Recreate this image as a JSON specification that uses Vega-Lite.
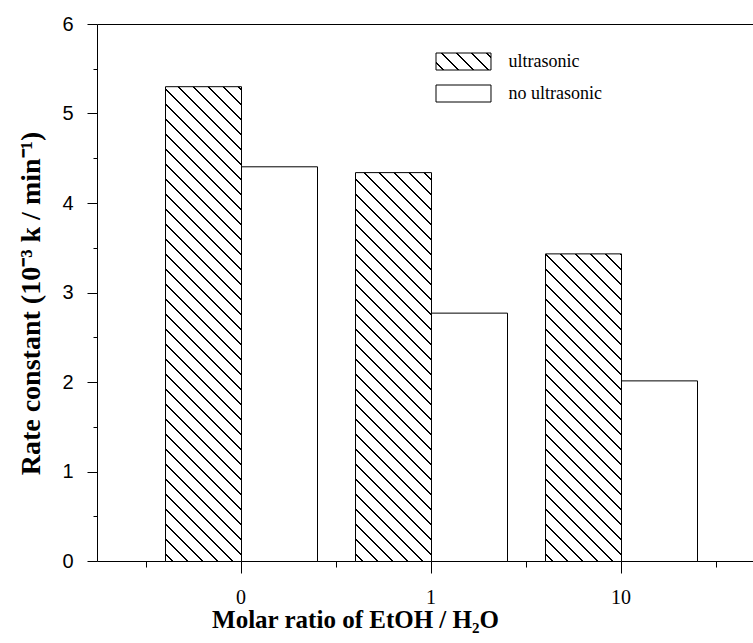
{
  "$schema": "https://vega.github.io/schema/vega-lite/v6.json",
  "autosize": "none",
  "width": 655.5,
  "height": 537,
  "padding": {"left": 97.5, "top": 24.5, "right": 0, "bottom": 81.5},
  "background": "white",
  "params": [
    {"name": "hs", "value": [
      {"offset":0.011,"color":"#fff"},{"offset":0.011,"color":"#000"},{"offset":0.014,"color":"#000"},{"offset":0.014,"color":"#fff"},
      {"offset":0.036,"color":"#fff"},{"offset":0.036,"color":"#000"},{"offset":0.039,"color":"#000"},{"offset":0.039,"color":"#fff"},
      {"offset":0.061,"color":"#fff"},{"offset":0.061,"color":"#000"},{"offset":0.064,"color":"#000"},{"offset":0.064,"color":"#fff"},
      {"offset":0.086,"color":"#fff"},{"offset":0.086,"color":"#000"},{"offset":0.089,"color":"#000"},{"offset":0.089,"color":"#fff"},
      {"offset":0.111,"color":"#fff"},{"offset":0.111,"color":"#000"},{"offset":0.114,"color":"#000"},{"offset":0.114,"color":"#fff"},
      {"offset":0.136,"color":"#fff"},{"offset":0.136,"color":"#000"},{"offset":0.139,"color":"#000"},{"offset":0.139,"color":"#fff"},
      {"offset":0.161,"color":"#fff"},{"offset":0.161,"color":"#000"},{"offset":0.164,"color":"#000"},{"offset":0.164,"color":"#fff"},
      {"offset":0.186,"color":"#fff"},{"offset":0.186,"color":"#000"},{"offset":0.189,"color":"#000"},{"offset":0.189,"color":"#fff"},
      {"offset":0.211,"color":"#fff"},{"offset":0.211,"color":"#000"},{"offset":0.214,"color":"#000"},{"offset":0.214,"color":"#fff"},
      {"offset":0.236,"color":"#fff"},{"offset":0.236,"color":"#000"},{"offset":0.239,"color":"#000"},{"offset":0.239,"color":"#fff"},
      {"offset":0.261,"color":"#fff"},{"offset":0.261,"color":"#000"},{"offset":0.264,"color":"#000"},{"offset":0.264,"color":"#fff"},
      {"offset":0.286,"color":"#fff"},{"offset":0.286,"color":"#000"},{"offset":0.289,"color":"#000"},{"offset":0.289,"color":"#fff"},
      {"offset":0.311,"color":"#fff"},{"offset":0.311,"color":"#000"},{"offset":0.314,"color":"#000"},{"offset":0.314,"color":"#fff"},
      {"offset":0.336,"color":"#fff"},{"offset":0.336,"color":"#000"},{"offset":0.339,"color":"#000"},{"offset":0.339,"color":"#fff"},
      {"offset":0.361,"color":"#fff"},{"offset":0.361,"color":"#000"},{"offset":0.364,"color":"#000"},{"offset":0.364,"color":"#fff"},
      {"offset":0.386,"color":"#fff"},{"offset":0.386,"color":"#000"},{"offset":0.389,"color":"#000"},{"offset":0.389,"color":"#fff"},
      {"offset":0.411,"color":"#fff"},{"offset":0.411,"color":"#000"},{"offset":0.414,"color":"#000"},{"offset":0.414,"color":"#fff"},
      {"offset":0.436,"color":"#fff"},{"offset":0.436,"color":"#000"},{"offset":0.439,"color":"#000"},{"offset":0.439,"color":"#fff"},
      {"offset":0.461,"color":"#fff"},{"offset":0.461,"color":"#000"},{"offset":0.464,"color":"#000"},{"offset":0.464,"color":"#fff"},
      {"offset":0.486,"color":"#fff"},{"offset":0.486,"color":"#000"},{"offset":0.489,"color":"#000"},{"offset":0.489,"color":"#fff"},
      {"offset":0.511,"color":"#fff"},{"offset":0.511,"color":"#000"},{"offset":0.514,"color":"#000"},{"offset":0.514,"color":"#fff"},
      {"offset":0.536,"color":"#fff"},{"offset":0.536,"color":"#000"},{"offset":0.539,"color":"#000"},{"offset":0.539,"color":"#fff"},
      {"offset":0.561,"color":"#fff"},{"offset":0.561,"color":"#000"},{"offset":0.564,"color":"#000"},{"offset":0.564,"color":"#fff"},
      {"offset":0.586,"color":"#fff"},{"offset":0.586,"color":"#000"},{"offset":0.589,"color":"#000"},{"offset":0.589,"color":"#fff"},
      {"offset":0.611,"color":"#fff"},{"offset":0.611,"color":"#000"},{"offset":0.614,"color":"#000"},{"offset":0.614,"color":"#fff"},
      {"offset":0.636,"color":"#fff"},{"offset":0.636,"color":"#000"},{"offset":0.639,"color":"#000"},{"offset":0.639,"color":"#fff"},
      {"offset":0.661,"color":"#fff"},{"offset":0.661,"color":"#000"},{"offset":0.664,"color":"#000"},{"offset":0.664,"color":"#fff"},
      {"offset":0.686,"color":"#fff"},{"offset":0.686,"color":"#000"},{"offset":0.689,"color":"#000"},{"offset":0.689,"color":"#fff"},
      {"offset":0.711,"color":"#fff"},{"offset":0.711,"color":"#000"},{"offset":0.714,"color":"#000"},{"offset":0.714,"color":"#fff"},
      {"offset":0.736,"color":"#fff"},{"offset":0.736,"color":"#000"},{"offset":0.739,"color":"#000"},{"offset":0.739,"color":"#fff"},
      {"offset":0.761,"color":"#fff"},{"offset":0.761,"color":"#000"},{"offset":0.764,"color":"#000"},{"offset":0.764,"color":"#fff"},
      {"offset":0.786,"color":"#fff"},{"offset":0.786,"color":"#000"},{"offset":0.789,"color":"#000"},{"offset":0.789,"color":"#fff"},
      {"offset":0.811,"color":"#fff"},{"offset":0.811,"color":"#000"},{"offset":0.814,"color":"#000"},{"offset":0.814,"color":"#fff"},
      {"offset":0.836,"color":"#fff"},{"offset":0.836,"color":"#000"},{"offset":0.839,"color":"#000"},{"offset":0.839,"color":"#fff"},
      {"offset":0.861,"color":"#fff"},{"offset":0.861,"color":"#000"},{"offset":0.864,"color":"#000"},{"offset":0.864,"color":"#fff"},
      {"offset":0.886,"color":"#fff"},{"offset":0.886,"color":"#000"},{"offset":0.889,"color":"#000"},{"offset":0.889,"color":"#fff"},
      {"offset":0.911,"color":"#fff"},{"offset":0.911,"color":"#000"},{"offset":0.914,"color":"#000"},{"offset":0.914,"color":"#fff"}
    ]}
  ],
  "data": {"values": [
    {"r": "0", "s": "ultrasonic", "v": 5.305},
    {"r": "0", "s": "no ultrasonic", "v": 4.41},
    {"r": "1", "s": "ultrasonic", "v": 4.345},
    {"r": "1", "s": "no ultrasonic", "v": 2.775},
    {"r": "10", "s": "ultrasonic", "v": 3.437},
    {"r": "10", "s": "no ultrasonic", "v": 2.018}
  ]},
  "layer": [
    {
      "mark": {"type": "bar", "stroke": "black", "strokeWidth": 1},
      "encoding": {
        "x": {
          "field": "r", "type": "nominal",
          "scale": {"type": "band", "domain": ["0", "1", "10"], "paddingInner": 0, "paddingOuter": 0.225, "align": 0.5731},
          "axis": {
            "orient": "bottom", "tickSize": 12, "labelAngle": 0,
            "labelFont": "Liberation Serif", "labelFontSize": 20, "labelPadding": 14,
            "title": "Molar ratio of EtOH / H₂O",
            "titleFont": "Liberation Serif", "titleFontSize": 25, "titleFontWeight": "bold",
            "titleX": 258, "titleY": 66, "titleBaseline": "alphabetic", "titleAlign": "center"
          }
        },
        "xOffset": {
          "field": "s", "type": "nominal",
          "scale": {"domain": ["ultrasonic", "no ultrasonic"], "paddingInner": 0, "paddingOuter": 0.25}
        },
        "y": {
          "field": "v", "type": "quantitative", "stack": null,
          "scale": {"domain": [0, 6], "nice": false, "zero": true},
          "axis": {
            "orient": "left", "values": [0, 1, 2, 3, 4, 5, 6], "tickSize": 10,
            "labelFont": "Liberation Sans", "labelFontSize": 20, "labelPadding": 14,
            "title": "Rate constant (10⁻³ k / min⁻¹)",
            "titleFont": "Liberation Serif", "titleFontSize": 28, "titleFontWeight": "bold",
            "titleX": -57.5, "titleY": 279, "titleAngle": -90, "titleBaseline": "alphabetic", "titleAlign": "center"
          }
        },
        "fill": {
          "field": "s", "type": "nominal",
          "scale": {
            "domain": ["ultrasonic", "no ultrasonic"],
            "range": [{"expr": "{gradient: 'linear', x1: 0, y1: 1, x2: 9.958, y2: -2.078, stops: hs}"}, "white"]
          },
          "condition": {
            "test": "datum.s === 'ultrasonic'",
            "value": {"expr": "{gradient: 'linear', x1: 0, y1: 1, x2: 600 * bandwidth('xOffset') / (pow(bandwidth('xOffset'), 2) + pow(scale('y', 0) - scale('y', datum.v), 2)), y2: 1 - 600 * (scale('y', 0) - scale('y', datum.v)) / (pow(bandwidth('xOffset'), 2) + pow(scale('y', 0) - scale('y', datum.v), 2)), stops: hs}"}
          },
          "legend": {
            "orient": "none", "legendX": 357, "legendY": 28, "title": null, "padding": 0,
            "symbolType": "M-3.235,-1H3.235V1H-3.235Z", "symbolSize": 289,
            "symbolStrokeColor": "black", "symbolStrokeWidth": 1, "symbolOpacity": 1,
            "labelFont": "Liberation Serif", "labelFontSize": 18, "labelColor": "black",
            "labelOffset": 36, "rowPadding": 10,
            "encode": {"symbols": {"update": {
              "opacity": {"value": 1},
              "stroke": {"value": "black"},
              "strokeWidth": {"value": 1}
            }}}
          }
        }
      }
    },
    {
      "mark": {"type": "bar", "fillOpacity": 0, "strokeOpacity": 0},
      "encoding": {
        "x": {
          "field": "r", "type": "nominal",
          "axis": {"orient": "bottom", "tickBand": "extent", "tickSize": 6, "labels": false, "domain": false, "title": null}
        },
        "y": {
          "field": "v", "type": "quantitative", "stack": null,
          "axis": {"orient": "left", "values": [0.5, 1.5, 2.5, 3.5, 4.5, 5.5], "tickSize": 4, "labels": false, "domain": false, "title": null}
        }
      }
    },
    {
      "data": {"values": [{}]},
      "mark": {"type": "rule", "color": "black", "strokeWidth": 1},
      "encoding": {
        "y": {"datum": 6, "type": "quantitative", "axis": null}
      }
    }
  ],
  "resolve": {"axis": {"x": "independent", "y": "independent"}},
  "config": {
    "view": {"stroke": null},
    "axis": {
      "translate": 0, "grid": false,
      "domainColor": "black", "tickColor": "black", "labelColor": "black", "titleColor": "black",
      "domainWidth": 1, "tickWidth": 1
    }
  }
}
